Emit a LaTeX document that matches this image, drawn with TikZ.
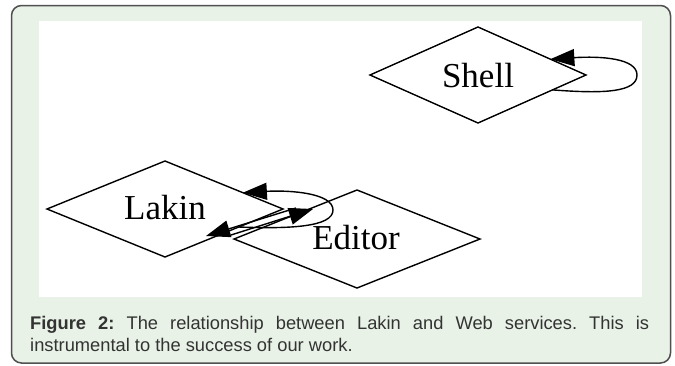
\documentclass[tikz,border=0pt]{standalone}
\usepackage{fontspec}
\setmainfont{Liberation Serif}
\newfontfamily\capfont{Liberation Sans}
\usetikzlibrary{shapes.geometric,arrows.meta,calc}
\definecolor{framefill}{HTML}{E8F2E6}
\definecolor{framedraw}{HTML}{505050}
\definecolor{captext}{HTML}{333333}
\frenchspacing
\begin{document}
\begin{tikzpicture}[x=1pt,y=-1pt,
  dnode/.style={draw=black, line width=1.4pt, shape=diamond, inner sep=0pt, outer sep=0pt},
  lbl/.style={font=\fontsize{35}{40}\selectfont, text=black, inner sep=0pt, anchor=base},
  conn/.style={draw=black, line width=1.4pt, -{Triangle[length=24pt,width=17pt]}},
  captxt/.style={font=\capfont\fontsize{18.3}{22}\selectfont, text=captext, inner sep=0pt, anchor=base west}]
\useasboundingbox (0,0) rectangle (675,365);
% frame
\draw[draw=framedraw, fill=framefill, line width=1.5pt, rounded corners=10pt] (11.5,5.5) rectangle (670.5,363);
\fill[white] (39,21) rectangle (642,297);
% nodes
\node[dnode, minimum width=216pt, minimum height=96pt] (shell) at (478,75) {};
\node[dnode, minimum width=236pt, minimum height=96pt] (lakin) at (165,209) {};
\node[dnode, minimum width=246pt, minimum height=98pt] (editor) at (357,239) {};
\node[lbl] (shellt) at (478,87) {Shell};
\node[lbl] (lakint) at (165,219) {Lakin};
\node[lbl] (editort) at (356,249) {Editor};
% connector end points
\coordinate (sl-s) at ($(shell.east)!0.31!(shell.south)$);
\coordinate (sl-e) at ($(shell.north)!0.67!(shell.east)$);
\coordinate (lk-s) at ($(lakin.east)!0.375!(lakin.south)$);
\coordinate (lk-e) at ($(lakin.north)!0.66!(lakin.east)$);
\coordinate (ea-s) at (231,235);
\coordinate (ea-t) at (313,209);
\coordinate (eb-s) at (296,208);
\coordinate (eb-t) at (206,236);
% self loops
\draw[conn] (sl-s) .. controls (605,94) and (637,92) .. (637,75) .. controls (637,58) and (600,56) .. (sl-e);
\draw[conn] (lk-s) .. controls (290,229) and (333,227) .. (333,210) .. controls (333,193) and (290,190) .. (lk-e);
% edges between Lakin and Editor
\draw[conn] (ea-s) -- (ea-t);
\draw[conn] (eb-s) -- (eb-t);
% caption
\node[captxt] (cap1) at (30,329) {\makebox[619pt][s]{\textbf{Figure 2:} The relationship between Lakin and Web services. This is}};
\node[captxt] (cap2) at (30,351.5) {instrumental to the success of our work.};
\end{tikzpicture}
\end{document}
